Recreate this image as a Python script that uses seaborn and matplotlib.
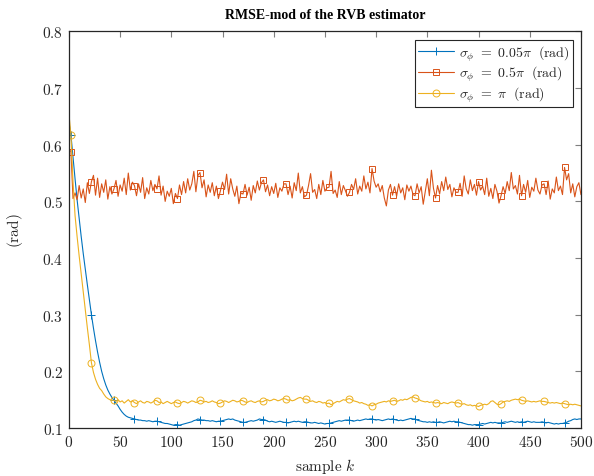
import numpy as np
import pandas as pd
import matplotlib
matplotlib.use("Agg")
import matplotlib.pyplot as plt
import seaborn as sns
from matplotlib.ticker import FuncFormatter, MultipleLocator

# ---------------- data ----------------
samples = list(range(0, 501, 2))          # sample index k
marker_samples = list(range(2, 501, 21))  # where markers are drawn

blue_005pi = (
    [0.640, 0.617, 0.578, 0.540, 0.503, 0.470, 0.438, 0.408, 0.380, 0.353,
     0.326, 0.300, 0.276, 0.254, 0.234, 0.216, 0.200, 0.187, 0.176, 0.167,
     0.160, 0.154, 0.149, 0.144, 0.139, 0.133, 0.128, 0.124, 0.121, 0.119,
     0.118, 0.117, 0.116, 0.115, 0.114, 0.114, 0.113, 0.113, 0.112, 0.113,
     0.112, 0.111, 0.112, 0.112, 0.111, 0.110, 0.109, 0.108, 0.108, 0.107,
     0.106, 0.105, 0.106, 0.106, 0.105, 0.106, 0.107, 0.108, 0.109, 0.110,
     0.111, 0.113, 0.114, 0.116, 0.115, 0.114, 0.114, 0.113, 0.113, 0.112,
     0.113, 0.112, 0.111, 0.112, 0.112, 0.113, 0.114, 0.115, 0.116, 0.115,
     0.116, 0.114, 0.113, 0.112, 0.111, 0.110, 0.110, 0.111, 0.112, 0.113,
     0.112, 0.113, 0.114, 0.116, 0.115, 0.115, 0.114, 0.112, 0.111, 0.112,
     0.111, 0.110, 0.111, 0.112, 0.111, 0.110, 0.110, 0.109, 0.110, 0.111,
     0.112, 0.111, 0.112, 0.111, 0.110, 0.111, 0.111, 0.110, 0.109, 0.109,
     0.110, 0.109, 0.108, 0.109, 0.108, 0.107, 0.108, 0.108, 0.109, 0.110,
     0.111, 0.112, 0.113, 0.112, 0.113, 0.114, 0.114, 0.114, 0.113, 0.112,
     0.113, 0.114, 0.113, 0.114, 0.115, 0.116, 0.115, 0.116, 0.116, 0.115,
     0.114, 0.115, 0.114, 0.113, 0.114, 0.115, 0.116, 0.115, 0.116, 0.115,
     0.114, 0.113, 0.114, 0.113, 0.114, 0.115, 0.116, 0.117, 0.116, 0.116,
     0.114, 0.113, 0.112, 0.111, 0.111, 0.110, 0.111, 0.110, 0.111, 0.110,
     0.110, 0.111, 0.110, 0.109, 0.110, 0.111, 0.112, 0.111, 0.112, 0.111,
     0.111, 0.110, 0.109, 0.108, 0.107, 0.106, 0.106, 0.105, 0.106, 0.106,
     0.106, 0.107, 0.108, 0.107, 0.108, 0.109, 0.110, 0.109, 0.110, 0.109,
     0.109, 0.109, 0.110, 0.111, 0.110, 0.111, 0.112, 0.111, 0.110, 0.111,
     0.110, 0.111, 0.110, 0.111, 0.112, 0.111, 0.110, 0.111, 0.110, 0.110,
     0.110, 0.111, 0.110, 0.109, 0.110, 0.109, 0.108, 0.107, 0.108, 0.107,
     0.108, 0.108, 0.109, 0.110, 0.112, 0.113, 0.115, 0.116, 0.115, 0.116,
     0.116]
)

orange_05pi = (
    [0.592, 0.588, 0.505, 0.515, 0.503, 0.528, 0.506, 0.522, 0.498, 0.533,
     0.514, 0.535, 0.546, 0.511, 0.541, 0.507, 0.531, 0.516, 0.538, 0.504,
     0.526, 0.513, 0.522, 0.537, 0.509, 0.529, 0.518, 0.541, 0.512, 0.550,
     0.520, 0.534, 0.528, 0.510, 0.531, 0.516, 0.542, 0.505, 0.524, 0.513,
     0.537, 0.519, 0.530, 0.522, 0.545, 0.511, 0.527, 0.500, 0.518, 0.509,
     0.523, 0.496, 0.514, 0.505, 0.529, 0.512, 0.535, 0.515, 0.540, 0.520,
     0.531, 0.553, 0.517, 0.546, 0.551, 0.524, 0.538, 0.508, 0.529, 0.516,
     0.533, 0.510, 0.527, 0.505, 0.519, 0.534, 0.521, 0.548, 0.513, 0.540,
     0.522, 0.509, 0.527, 0.496, 0.515, 0.513, 0.530, 0.511, 0.525, 0.502,
     0.528, 0.515, 0.536, 0.520, 0.533, 0.538, 0.517, 0.529, 0.510, 0.526,
     0.514, 0.532, 0.507, 0.524, 0.518, 0.531, 0.531, 0.512, 0.527, 0.506,
     0.533, 0.519, 0.550, 0.515, 0.526, 0.508, 0.511, 0.528, 0.549, 0.516,
     0.521, 0.505, 0.530, 0.512, 0.537, 0.518, 0.524, 0.525, 0.553, 0.514,
     0.520, 0.507, 0.535, 0.512, 0.528, 0.519, 0.509, 0.516, 0.530, 0.521,
     0.540, 0.513, 0.527, 0.518, 0.545, 0.522, 0.534, 0.515, 0.558, 0.536,
     0.525, 0.531, 0.517, 0.528, 0.506, 0.492, 0.520, 0.530, 0.511, 0.526,
     0.509, 0.531, 0.515, 0.524, 0.503, 0.529, 0.518, 0.527, 0.512, 0.510,
     0.531, 0.515, 0.526, 0.495, 0.518, 0.540, 0.510, 0.555, 0.523, 0.506,
     0.528, 0.513, 0.535, 0.519, 0.543, 0.521, 0.530, 0.508, 0.524, 0.516,
     0.516, 0.532, 0.509, 0.545, 0.522, 0.513, 0.538, 0.519, 0.530, 0.511,
     0.535, 0.520, 0.527, 0.512, 0.541, 0.509, 0.523, 0.505, 0.530, 0.518,
     0.497, 0.510, 0.526, 0.514, 0.535, 0.519, 0.551, 0.522, 0.528, 0.513,
     0.546, 0.510, 0.530, 0.516, 0.537, 0.507, 0.525, 0.518, 0.541, 0.520,
     0.513, 0.529, 0.531, 0.512, 0.536, 0.504, 0.522, 0.515, 0.543, 0.519,
     0.527, 0.512, 0.560, 0.538, 0.549, 0.515, 0.531, 0.508, 0.526, 0.533,
     0.512]
)

yellow_pi = (
    [0.655, 0.617, 0.535, 0.475, 0.438, 0.404, 0.372, 0.340, 0.308, 0.277,
     0.247, 0.215, 0.198, 0.186, 0.177, 0.170, 0.166, 0.160, 0.155, 0.152,
     0.150, 0.149, 0.149, 0.147, 0.150, 0.146, 0.148, 0.144, 0.147, 0.150,
     0.146, 0.148, 0.145, 0.143, 0.146, 0.148, 0.145, 0.144, 0.147, 0.146,
     0.144, 0.146, 0.149, 0.148, 0.145, 0.146, 0.143, 0.145, 0.147, 0.145,
     0.143, 0.145, 0.146, 0.144, 0.143, 0.145, 0.147, 0.146, 0.144, 0.146,
     0.148, 0.147, 0.145, 0.146, 0.149, 0.148, 0.146, 0.147, 0.145, 0.146,
     0.148, 0.146, 0.145, 0.143, 0.144, 0.146, 0.148, 0.147, 0.145, 0.147,
     0.149, 0.148, 0.146, 0.147, 0.149, 0.148, 0.146, 0.145, 0.147, 0.148,
     0.146, 0.145, 0.147, 0.148, 0.146, 0.147, 0.149, 0.150, 0.148, 0.149,
     0.151, 0.150, 0.148, 0.149, 0.151, 0.152, 0.151, 0.149, 0.150, 0.148,
     0.149, 0.151, 0.153, 0.154, 0.152, 0.151, 0.151, 0.149, 0.147, 0.148,
     0.146, 0.145, 0.147, 0.146, 0.144, 0.145, 0.143, 0.144, 0.141, 0.143,
     0.145, 0.147, 0.146, 0.148, 0.150, 0.149, 0.151, 0.152, 0.150, 0.148,
     0.147, 0.146, 0.144, 0.145, 0.143, 0.142, 0.140, 0.141, 0.139, 0.141,
     0.142, 0.144, 0.145, 0.146, 0.147, 0.146, 0.148, 0.147, 0.148, 0.149,
     0.147, 0.148, 0.150, 0.149, 0.151, 0.150, 0.152, 0.154, 0.155, 0.153,
     0.152, 0.150, 0.148, 0.147, 0.146, 0.147, 0.145, 0.146, 0.145, 0.144,
     0.145, 0.144, 0.143, 0.145, 0.144, 0.143, 0.145, 0.146, 0.145, 0.144,
     0.145, 0.143, 0.142, 0.143, 0.141, 0.140, 0.141, 0.139, 0.140, 0.139,
     0.138, 0.140, 0.141, 0.142, 0.141, 0.143, 0.147, 0.148, 0.145, 0.142,
     0.141, 0.143, 0.146, 0.147, 0.148, 0.147, 0.149, 0.150, 0.151, 0.150,
     0.151, 0.149, 0.148, 0.147, 0.148, 0.147, 0.146, 0.147, 0.146, 0.147,
     0.148, 0.147, 0.147, 0.146, 0.145, 0.144, 0.145, 0.144, 0.145, 0.144,
     0.143, 0.144, 0.143, 0.142, 0.141, 0.142, 0.141, 0.142, 0.141, 0.140,
     0.139]
)

labels = [r"$\sigma_\phi\ =\ 0.05\pi\ \ \mathrm{(rad)}$",
          r"$\sigma_\phi\ =\ 0.5\pi\ \ \mathrm{(rad)}$",
          r"$\sigma_\phi\ =\ \pi\ \ \mathrm{(rad)}$"]
colors = ["#0072BD", "#D95319", "#EDB120"]
markers = ["+", "s", "o"]

# ---------------- styling ----------------
sns.set_theme(style="white")
plt.rcParams["font.family"] = ["Liberation Serif", "DejaVu Serif"]
plt.rcParams["mathtext.fontset"] = "cm"

fig, ax = plt.subplots(figsize=(5.94, 4.77), dpi=100)
fig.subplots_adjust(left=0.116, right=0.978, top=0.932, bottom=0.1006)

mark_idx = [m // 2 for m in marker_samples]
series = [blue_005pi, orange_05pi, yellow_pi]
for vals, lab, col, mk in zip(series, labels, colors, markers):
    n = min(len(samples), len(vals))
    df = pd.DataFrame({"k": samples[:n], "v": vals[:n]})
    sns.lineplot(data=df, x="k", y="v", ax=ax, color=col, lw=0.8,
                 marker=mk, markevery=[i for i in mark_idx if i < n],
                 markersize=5 if mk != "+" else 6,
                 markeredgecolor=col, markerfacecolor="none",
                 markeredgewidth=0.7, label=lab, estimator=None, sort=False)

ax.set_xlim(0, 500)
ax.set_ylim(0.1, 0.8)
ax.xaxis.set_major_locator(MultipleLocator(50))
ax.yaxis.set_major_locator(MultipleLocator(0.1))
ax.xaxis.set_major_formatter(FuncFormatter(lambda x, p: r"$%d$" % round(x)))
ax.yaxis.set_major_formatter(FuncFormatter(lambda y, p: r"$%.1f$" % y))
ax.tick_params(direction="in", length=4, width=0.8, color="#7f7f7f",
               top=True, right=True, labelsize=11, pad=4,
               labelcolor="#262626")
for s in ax.spines.values():
    s.set_color("#262626")
    s.set_linewidth(0.9)

ax.set_xlabel(r"$\mathrm{sample}\ k$", fontsize=11, color="#262626", labelpad=5)
ax.set_ylabel(r"$\mathrm{(rad)}$", fontsize=11, color="#262626", labelpad=12)
ax.set_title("RMSE-mod of the RVB estimator", fontsize=10,
             fontweight="bold", color="black", pad=10)

leg = ax.legend(loc="upper right", fontsize=10, frameon=True,
                fancybox=False, framealpha=1, edgecolor="#262626",
                borderpad=0.25, labelspacing=0.1, handlelength=2.6,
                handletextpad=0.3, borderaxespad=0.6)
leg.get_frame().set_linewidth(0.8)

fig.savefig("out.png", dpi=100)
